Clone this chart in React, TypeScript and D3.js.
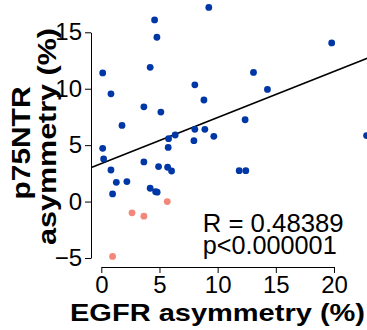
import { useEffect, useRef } from "react";
import * as d3 from "d3";

// EGFR asymmetry (%) vs p75NTR asymmetry (%)
const blueX = [
  0.12, 0.83, 1.78, 3.66, 4.2, 4.58, 4.78, 5.12, 8.04, 8.82, 9.24, 8.04, 8.9,
  9.67, 6.35, 7.96, 19.8, 13.08, 14.28, 12.36, 22.8, 0.12, 0.2, 0.83, 1.29,
  0.97, 2.2, 3.66, 4.2, 4.67, 4.8, 4.92, 5.7, 6.04, 5.75, 5.78, 11.85, 12.42,
];
const blueY = [
  11.4, 9.55, 6.75, 8.4, 11.9, 16.1, 14.56, 7.93, 10.35, 9.0, 17.2, 6.4, 6.4,
  5.78, 5.9, 5.4, 14.06, 11.44, 9.94, 7.25, 5.85, 4.72, 3.78, 2.8, 1.71, 0.68,
  1.77, 3.51, 1.18, 0.88, 0.83, 3.1, 3.04, 2.71, 4.8, 5.57, 2.74, 2.74,
];
const redX = [2.64, 3.66, 5.67, 0.97];
const redY = [-1.0, -1.29, 0.0, -4.86];

const xTicks = [0, 5, 10, 15, 20];
const yTicks = [-5, 0, 5, 10, 15];

// fitted line y = a + b x
const fitIntercept = 3.37;
const fitSlope = 0.408;
const fitRange = [-0.8, 24];

const statLines = ["R = 0.48389", "p<0.000001"];

const FONT = "'Liberation Sans', Arial, sans-serif";

export default function App() {
  const svgRef = useRef<SVGSVGElement>(null);
  const width = 367;
  const height = 330;

  useEffect(() => {
    const svg = d3.select(svgRef.current);
    svg.selectAll("*").remove();

    const x = d3.scaleLinear().domain([0, 20]).range([101.3, 334]);
    const y = d3.scaleLinear().domain([-5, 15]).range([258, 32.3]);
    const axisX = 91;
    const axisY = 267;

    // x axis
    svg.append("g")
      .attr("transform", `translate(0,${axisY})`)
      .call(d3.axisBottom(x).tickValues(xTicks).tickSize(6).tickPadding(3.3).tickSizeOuter(0))
      .call(ax => ax.select(".domain").attr("stroke", "#000").attr("stroke-width", 1))
      .call(ax => ax.selectAll(".tick line").attr("stroke", "#000"))
      .call(ax => ax.selectAll(".tick text")
        .attr("fill", "#000").attr("font-size", 24).attr("font-family", FONT));

    // y axis
    svg.append("g")
      .attr("transform", `translate(${axisX},0)`)
      .call(d3.axisLeft(y).tickValues(yTicks).tickSize(6).tickPadding(3).tickSizeOuter(0))
      .call(ax => ax.select(".domain").attr("stroke", "#000").attr("stroke-width", 1))
      .call(ax => ax.selectAll(".tick line").attr("stroke", "#000"))
      .call(ax => ax.selectAll(".tick text")
        .attr("fill", "#000").attr("font-size", 24).attr("font-family", FONT));

    // regression line
    const line = d3.line<number>().x(d => x(d)).y(d => y(fitIntercept + fitSlope * d));
    svg.append("path")
      .attr("d", line(fitRange))
      .attr("fill", "none")
      .attr("stroke", "#000")
      .attr("stroke-width", 1.6);

    // points
    svg.selectAll("circle.blue")
      .data(blueX.map((v, i) => [v, blueY[i]]))
      .join("circle")
      .attr("class", "blue")
      .attr("cx", d => x(d[0]))
      .attr("cy", d => y(d[1]))
      .attr("r", 3.4)
      .attr("fill", "#0037a6");

    svg.selectAll("circle.red")
      .data(redX.map((v, i) => [v, redY[i]]))
      .join("circle")
      .attr("class", "red")
      .attr("cx", d => x(d[0]))
      .attr("cy", d => y(d[1]))
      .attr("r", 3.4)
      .attr("fill", "#f4877b");

    // stats text
    const statLen = [141, 134];
    statLines.forEach((t, i) => {
      svg.append("text")
        .attr("x", 202.7).attr("y", 231.7 + i * 22.6)
        .attr("font-size", 25).attr("font-family", FONT)
        .attr("textLength", statLen[i]).attr("lengthAdjust", "spacingAndGlyphs")
        .attr("fill", "#000")
        .text(t);
    });

    // axis titles
    svg.append("text")
      .attr("x", 70).attr("y", 320.7)
      .attr("font-size", 24).attr("font-weight", "bold").attr("font-family", FONT)
      .attr("textLength", 295).attr("lengthAdjust", "spacingAndGlyphs")
      .text("EGFR asymmetry (%)");

    svg.append("text")
      .attr("transform", "translate(29.5,199.5) rotate(-90)")
      .attr("font-size", 26).attr("font-weight", "bold").attr("font-family", FONT)
      .attr("textLength", 113).attr("lengthAdjust", "spacingAndGlyphs")
      .text("p75NTR");

    svg.append("text")
      .attr("transform", "translate(56.4,245) rotate(-90)")
      .attr("font-size", 26).attr("font-weight", "bold").attr("font-family", FONT)
      .attr("textLength", 217).attr("lengthAdjust", "spacingAndGlyphs")
      .text("asymmetry (%)");
  }, []);

  return (
    <svg
      ref={svgRef}
      width={width}
      height={height}
      style={{ position: "fixed", left: 0, top: 0, background: "#fff" }}
    />
  );
}
